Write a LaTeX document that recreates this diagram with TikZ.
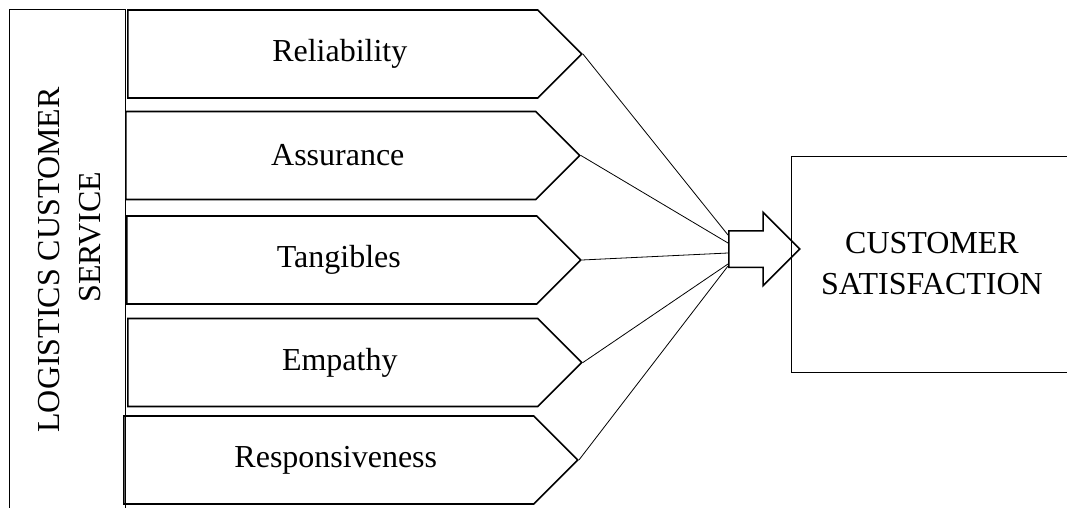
\documentclass[tikz,border=0pt]{standalone}
\usepackage{fontspec}
\setmainfont{Liberation Serif}
\usetikzlibrary{shapes}

\begin{document}
\begin{tikzpicture}[x = 1pt, y = -1pt, font = \fontsize{32}{41}\selectfont]
	\tikzstyle{dimStyle}=[shape = signal, signal to = east, signal pointer angle = 90, draw, line width = 1.6pt, minimum width = 454pt, minimum height = 88pt, inner sep = 0pt, anchor = west]
	\tikzstyle{outerStyle}=[draw, line width = 1pt]
	\tikzstyle{arrowStyle}=[shape = single arrow, draw, line width = 1.5pt, minimum height = 71pt, inner xsep = 0pt, inner ysep = 17.5pt, single arrow head extend = 18.5pt, single arrow tip angle = 90, anchor = tail]
	\tikzstyle{linkStyle}=[line width = 0.8pt]
	\useasboundingbox (0,0) rectangle (1067,508);
	\draw[outerStyle] (9,520) -- (9,10) -- (125,10) -- (125,520);
	\node[rotate = 90, align = center] (lcs) at (70,260) {LOGISTICS CUSTOMER\\\hspace*{46pt}SERVICE};
	\node[dimStyle] (rel) at (127,54) {\hspace*{14pt}Reliability};
	\node[dimStyle] (ass) at (125,155.5) {\hspace*{14pt}Assurance};
	\node[dimStyle] (tan) at (126,260) {\hspace*{14pt}Tangibles};
	\node[dimStyle] (emp) at (127,362.5) {\hspace*{14pt}Empathy};
	\node[dimStyle] (res) at (123,460) {\hspace*{14pt}Responsiveness};
	\node[arrowStyle] (arr) at (728,249) {};
	\node[outerStyle, minimum width = 282pt, minimum height = 216pt, align = center] (sat) at (932,264) {CUSTOMER\\SATISFACTION};
	\draw[linkStyle] (rel.east) -- ([yshift = 14pt]arr.tail);
	\draw[linkStyle] (ass.east) -- ([yshift = 6pt]arr.tail);
	\draw[linkStyle] (tan.east) -- ([yshift = -4pt]arr.tail);
	\draw[linkStyle] (emp.east) -- ([yshift = -15pt]arr.tail);
	\draw[linkStyle] (res.east) -- ([yshift = -17pt]arr.tail);
\end{tikzpicture}
\end{document}
